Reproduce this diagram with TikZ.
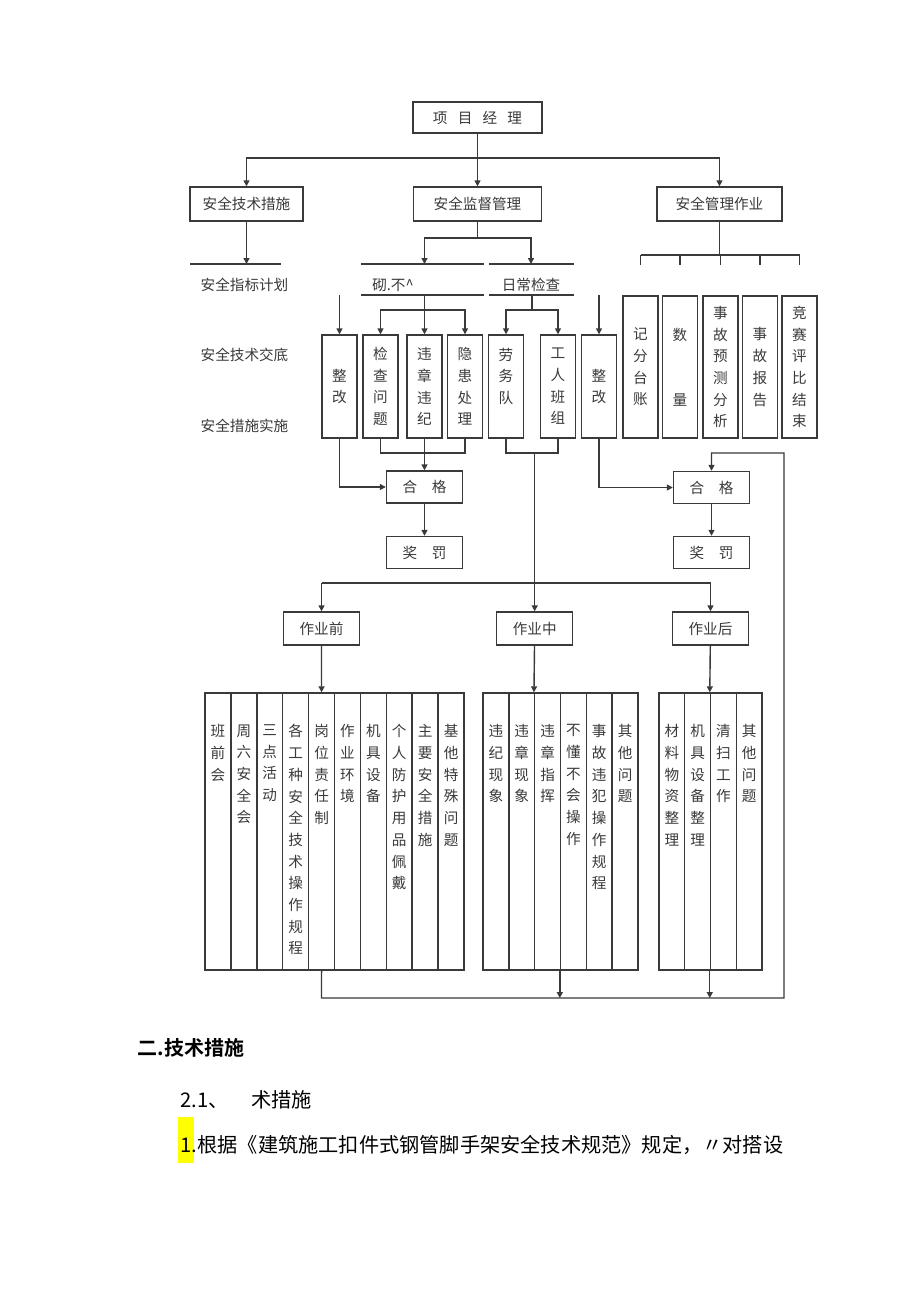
\documentclass[tikz,border=0pt]{standalone}
\usepackage{fontspec}
\newfontfamily\cjk{Noto Sans CJK SC}[BoldFont={Noto Sans CJK SC Bold}]
\usepackage{tikz}
\usetikzlibrary{arrows.meta, positioning}
\definecolor{lineGray}{RGB}{58,58,58}
\definecolor{markYellow}{RGB}{255,255,0}

\begin{document}
\begin{tikzpicture}[x=0.5pt, y=-0.5pt, >={Triangle[length=3pt,width=3pt]},
  color=lineGray, line width=0.7pt,
  font=\cjk\fontsize{7.3}{10.85}\selectfont,
  box/.style={draw=lineGray, line width=0.7pt, inner sep=0pt, align=center},
  wide/.style={box, minimum width=38pt, minimum height=16pt},
  rowbox/.style={box, minimum width=17.5pt, minimum height=51.5pt},
  tall/.style={box, minimum width=17.5pt, minimum height=71pt},
  col/.style={box, minimum width=12.9pt, minimum height=138.5pt},
  coltext/.style={inner sep=0pt, align=center, anchor=north},
  plain/.style={inner sep=0pt, anchor=west},
  body/.style={plain, text=black, font=\cjk\fontsize{10.1}{12}\selectfont}]
  \fill[white] (0,0) rectangle (920,1301);
  \useasboundingbox (0,0) rectangle (920,1301);

  % top of the chart
  \node[box, minimum width=64.5pt, minimum height=15.5pt] (pm) at (477.5,117.5)
    {项\hspace{0.7em}目\hspace{0.7em}经\hspace{0.7em}理};
  \node[box, minimum width=56.5pt, minimum height=17pt] (tech) at (246.5,204) {安全技术措施};
  \node[box, minimum width=64pt, minimum height=17pt] (sup) at (477.5,204) {安全监督管理};
  \node[box, minimum width=62.5pt, minimum height=17pt] (ops) at (719.5,204) {安全管理作业};

  \coordinate (j1) at (477.5,158);
  \draw[->] (pm) -- (j1) -| (tech);
  \draw[->] (j1) -- (sup);
  \draw[->] (j1) -| (ops);

  % labels and rules under the second row
  \node[plain] (lbPlan) at (200,285) {安全指标计划};
  \node[plain] (lbBrief) at (200,355) {安全技术交底};
  \node[plain] (lbDo) at (200,426) {安全措施实施};
  \node[inner sep=0pt] (lbSpot) at (393,285) {砌.不\textasciicircum};
  \node[inner sep=0pt] (lbDaily) at (531,285) {日常检查};

  \draw (190,264) -- (281,264);
  \draw (361,264) -- (484,264);
  \draw (489,264) -- (574,264);
  \draw (361,295) -- (484,295);
  \draw (489,295) -- (574,295);

  \coordinate (t1) at (246.5,264);
  \draw[->] (tech) -- (t1);
  \coordinate (s1) at (477.5,238);
  \coordinate (s2) at (424.5,264);
  \coordinate (s3) at (531,264);
  \draw (sup) -- (s1);
  \draw[->] (s1) -| (s2);
  \draw[->] (s1) -| (s3);

  % third row
  \node[rowbox] (fix1) at (339.5,386.5) {整\\改};
  \node[rowbox] (chk) at (380.5,386.5) {检\\查\\问\\题};
  \node[rowbox] (vio) at (424.5,386.5) {违\\章\\违\\纪};
  \node[rowbox] (haz) at (465,386.5) {隐\\患\\处\\理};
  \node[rowbox] (lab) at (506,386.5) {劳\\务\\队\\\mbox{}};
  \node[rowbox] (crew) at (558,386.5) {工\\人\\班\\组};
  \node[rowbox] (fix2) at (599,386.5) {整\\改};

  \node[tall] (acc) at (640.5,367) {记\\分\\台\\账};
  \node[tall] (num) at (680,367) {数\\\mbox{}\\\mbox{}\\量};
  \node[tall] (fore) at (720.5,367) {事\\故\\预\\测\\分\\析};
  \node[tall] (rep) at (760,367) {事\\故\\报\\告};
  \node[tall] (race) at (799.5,367) {竞\\赛\\评\\比\\结\\束};

  \coordinate (c1) at (424.5,295);
  \coordinate (c1b) at (424.5,310);
  \draw[->] (c1) -- (vio);
  \draw[->] (c1b) -| (chk);
  \draw[->] (c1b) -| (haz);
  \coordinate (c2) at (532,295);
  \coordinate (c2b) at (532,310);
  \draw (c2) -- (c2b);
  \draw[->] (c2b) -| (lab);
  \draw[->] (c2b) -| (crew);
  \coordinate (f1) at (339.5,295);
  \draw[->] (f1) -- (fix1);
  \coordinate (f2) at (599,295);
  \draw[->] (f2) -- (fix2);

  \coordinate (o1) at (719.5,255);
  \draw (ops) -- (o1);
  \draw (acc.north |- o1) -- (race.north |- o1);
  \foreach \n in {acc,num,fore,rep,race}
    \draw (\n.north |- o1) -- ++(0,10);

  % pass / reward
  \node[wide] (ok1) at (424.5,487) {合\hspace{1em}格};
  \node[wide] (ok2) at (711.5,487.5) {合\hspace{1em}格};
  \node[wide] (pen1) at (424.5,552.5) {奖\hspace{1em}罚};
  \node[wide] (pen2) at (711.5,552.5) {奖\hspace{1em}罚};

  \coordinate (m1) at (424.5,453);
  \draw (chk) |- (m1) -| (haz);
  \draw[->] (vio) -- (ok1);
  \draw[->] (fix1) |- (ok1);
  \draw[->] (ok1) -- (pen1);
  \coordinate (m2) at (534.7,453);
  \draw (lab) |- (m2) -| (crew);
  \draw[->] (fix2) |- (ok2);
  \draw[->] (ok2) -- (pen2);

  % before / during / after work
  \node[wide, minimum height=16.5pt] (pre) at (321.5,628.5) {作业前};
  \node[wide, minimum height=16.5pt] (mid) at (534.7,628.5) {作业中};
  \node[wide, minimum height=16.5pt] (post) at (710.5,628.5) {作业后};
  \draw[->] (m2) -- (mid);
  \coordinate (h1) at (321.5,583);
  \draw[->] (h1) -- (pre);
  \draw[->] (h1) -| (post);

  \foreach \i/\t in {1/{班\\前\\会}, 2/{周\\六\\安\\全\\会}, 3/{三\\点\\活\\动},
      4/{各\\工\\种\\安\\全\\技\\术\\操\\作\\规\\程}, 5/{岗\\位\\责\\任\\制},
      6/{作\\业\\环\\境}, 7/{机\\具\\设\\备}, 8/{个\\人\\防\\护\\用\\品\\佩\\戴},
      9/{主\\要\\安\\全\\措\\施}, 10/{基\\他\\特\\殊\\问\\题}} {
    \node[col] (pre\i) at ({205+25.9*(\i-0.5)},831.5) {};
    \node[coltext] at ([yshift=-15.8pt]pre\i.north) {\t};
  }
  \foreach \i/\t in {1/{违\\纪\\现\\象}, 2/{违\\章\\现\\象}, 3/{违\\章\\指\\挥},
      4/{不\\懂\\不\\会\\操\\作}, 5/{事\\故\\违\\犯\\操\\作\\规\\程}, 6/{其\\他\\问\\题}} {
    \node[col] (mid\i) at ({483+25.83*(\i-0.5)},831.5) {};
    \node[coltext] at ([yshift=-15.8pt]mid\i.north) {\t};
  }
  \foreach \i/\t in {1/{材\\料\\物\\资\\整\\理}, 2/{机\\具\\设\\备\\整\\理},
      3/{清\\扫\\工\\作}, 4/{其\\他\\问\\题}} {
    \node[col] (post\i) at ({659+25.75*(\i-0.5)},831.5) {};
    \node[coltext] at ([yshift=-15.8pt]post\i.north) {\t};
  }

  \draw[->] (pre) -- (pre5.north);
  \draw[->] (mid) -- (mid3.north west);
  \draw[->] (post) -- (post3.north west);

  % loop back to the right pass box
  \coordinate (bL) at (321.5,998);
  \coordinate (bR) at (784,998);
  \coordinate (bT) at (784,453);
  \draw[->] (pre5.south) -- (bL) -- (bR) -- (bT) -| (ok2);
  \draw[->] (mid4.south west) -- (mid4.south west |- bL);
  \draw[->] (post3.south west) -- (post3.south west |- bL);

  % text below the chart
  \fill[markYellow] (178,1117) rectangle (194,1163);
  \node[plain, text=black, font=\cjk\bfseries\fontsize{10}{12}\selectfont] (secTitle) at (137,1048)
    {二.技术措施};
  \node[body] (subTitle) at (180,1100) {2.1、\hspace{1.1em}术措施};
  \node[body] (para) at (180,1145)
    {1.根据《建筑施工扣件式钢管脚手架安全技术规范》规定，〃对搭设};
\end{tikzpicture}
\end{document}
